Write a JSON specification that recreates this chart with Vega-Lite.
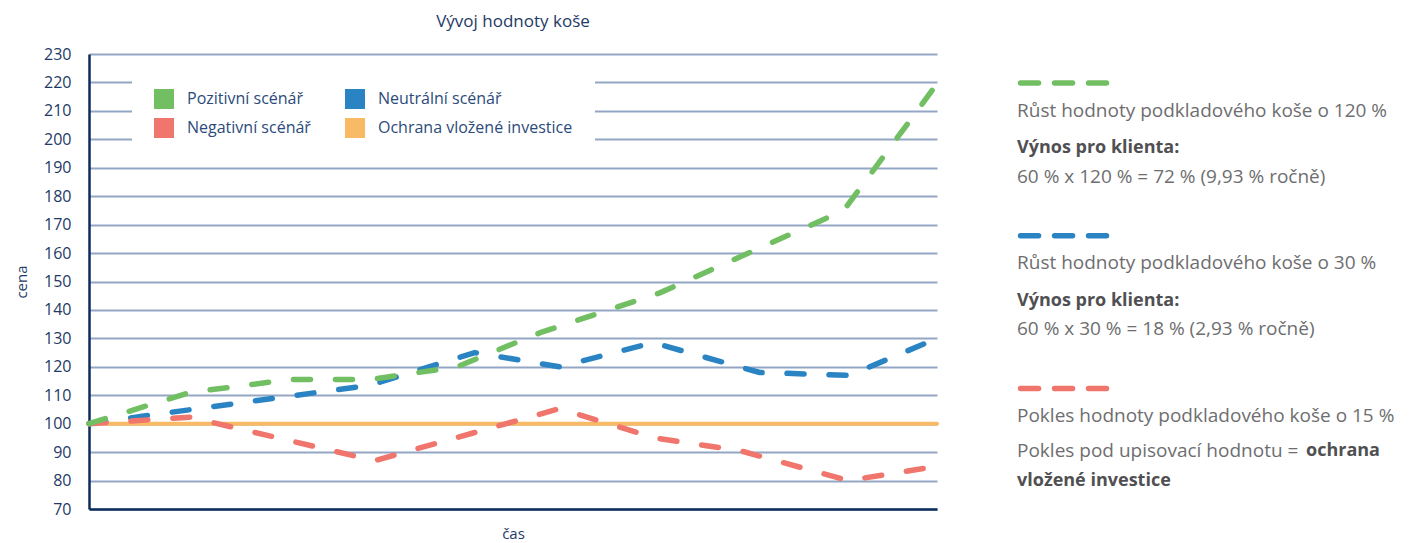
{
  "$schema": "https://vega.github.io/schema/vega-lite/v6.json",
  "background": "white",
  "padding": {"left": 14, "top": 13, "right": 0, "bottom": 0},
  "config": {"view": {"stroke": null}, "font": "Open Sans"},
  "spacing": 72,
  "hconcat": [
    {
      "width": 848,
      "height": 455,
      "title": {"text": "Vývoj hodnoty koše", "fontSize": 17, "fontWeight": 500, "color": "#1E3A66", "offset": 15, "anchor": "middle"},
      "data": {"values": [
        {"s": "Pozitivní scénář", "t": 0, "v": 100},
        {"s": "Pozitivní scénář", "t": 11.9, "v": 111},
        {"s": "Pozitivní scénář", "t": 23.7, "v": 115.5},
        {"s": "Pozitivní scénář", "t": 33.1, "v": 115.5},
        {"s": "Pozitivní scénář", "t": 43.4, "v": 120},
        {"s": "Pozitivní scénář", "t": 53.2, "v": 132},
        {"s": "Pozitivní scénář", "t": 67.3, "v": 146},
        {"s": "Pozitivní scénář", "t": 89.0, "v": 175},
        {"s": "Pozitivní scénář", "t": 100, "v": 219.5},
        {"s": "Neutrální scénář", "t": 0, "v": 100},
        {"s": "Neutrální scénář", "t": 7.2, "v": 103},
        {"s": "Neutrální scénář", "t": 33.1, "v": 113.5},
        {"s": "Neutrální scénář", "t": 45.5, "v": 125},
        {"s": "Neutrální scénář", "t": 55.5, "v": 120},
        {"s": "Neutrální scénář", "t": 66.5, "v": 128.5},
        {"s": "Neutrální scénář", "t": 79.1, "v": 118},
        {"s": "Neutrální scénář", "t": 89.7, "v": 117},
        {"s": "Neutrální scénář", "t": 100, "v": 130},
        {"s": "Negativní scénář", "t": 0, "v": 100},
        {"s": "Negativní scénář", "t": 11.9, "v": 102.3},
        {"s": "Negativní scénář", "t": 33.7, "v": 87},
        {"s": "Negativní scénář", "t": 55.5, "v": 105.3},
        {"s": "Negativní scénář", "t": 66.7, "v": 95},
        {"s": "Negativní scénář", "t": 76.8, "v": 90.5},
        {"s": "Negativní scénář", "t": 89.5, "v": 80},
        {"s": "Negativní scénář", "t": 100, "v": 85},
        {"s": "Ochrana vložené investice", "t": 0, "v": 100},
        {"s": "Ochrana vložené investice", "t": 100, "v": 100}
      ]},
      "encoding": {
        "x": {"field": "t", "type": "quantitative", "scale": {"domain": [0, 100], "nice": false, "zero": false},
          "axis": {"title": "čas", "labels": false, "ticks": false, "grid": false, "domainColor": "#0B2D5B", "domainWidth": 2.5, "titleFontSize": 15, "titleFontWeight": "normal", "titleColor": "#1E3A66", "titlePadding": 17}},
        "y": {"field": "v", "type": "quantitative", "scale": {"domain": [70, 230], "nice": false, "zero": false},
          "axis": {"title": "cena", "tickCount": 16, "ticks": false, "labelPadding": 18, "labelFontSize": 16, "labelColor": "#1E3A66", "gridColor": "#93A6C3", "gridWidth": 2, "gridOpacity": 1, "domainColor": "#0B2D5B", "domainWidth": 2.5, "titleFontSize": 15, "titleFontWeight": "normal", "titleColor": "#1E3A66", "titlePadding": 14}},
        "color": {"field": "s", "type": "nominal",
          "scale": {"domain": ["Pozitivní scénář", "Neutrální scénář", "Negativní scénář", "Ochrana vložené investice"], "range": ["#72BF63", "#2A84C3", "#F0756C", "#F8BA64"]},
          "legend": {"orient": "none", "legendX": 43, "legendY": 13, "direction": "horizontal", "title": null, "columns": 2, "symbolType": "square", "symbolSize": 400, "symbolStrokeWidth": 0, "symbolOpacity": 1, "labelFontSize": 16, "labelColor": "#2C4B7B", "labelOffset": 13, "labelLimit": 400, "columnPadding": 34, "rowPadding": 9, "padding": 22, "fillColor": "white",
            "encode": {"symbols": {"update": {"fill": {"scale": "color", "field": "value"}, "stroke": {"value": "transparent"}}}}}
        }
      },
      "layer": [
        {"transform": [{"filter": "datum.s === 'Ochrana vložené investice'"}], "mark": {"type": "line", "strokeWidth": 4, "strokeCap": "round"}},
        {"transform": [{"filter": "datum.s === 'Neutrální scénář'"}], "mark": {"type": "line", "strokeWidth": 5.5, "strokeCap": "round", "strokeJoin": "round", "strokeDash": [17, 25]}},
        {"transform": [{"filter": "datum.s === 'Negativní scénář'"}], "mark": {"type": "line", "strokeWidth": 5.5, "strokeCap": "round", "strokeJoin": "round", "strokeDash": [17, 25]}},
        {"transform": [{"filter": "datum.s === 'Pozitivní scénář'"}], "mark": {"type": "line", "strokeWidth": 5.5, "strokeCap": "round", "strokeJoin": "round", "strokeDash": [17, 25]}}
      ]
    },
    {
      "width": 395,
      "height": 455,
      "data": {"values": [
        {"slot": 0, "kind": "dash", "s": "Pozitivní scénář"},
        {"slot": 1, "kind": "sub", "text": "Růst hodnoty podkladového koše o 120 %"},
        {"slot": 2, "kind": "head", "text": "Výnos pro klienta:"},
        {"slot": 3, "kind": "body", "text": "60 %  x 120 % = 72 % (9,93 % ročně)"},
        {"slot": 5, "kind": "dash", "s": "Neutrální scénář"},
        {"slot": 6, "kind": "sub", "text": "Růst hodnoty podkladového koše o 30 %"},
        {"slot": 7, "kind": "head", "text": "Výnos pro klienta:"},
        {"slot": 8, "kind": "body", "text": "60 % x 30 % = 18 % (2,93 % ročně)"},
        {"slot": 10, "kind": "dash", "s": "Negativní scénář"},
        {"slot": 11, "kind": "sub", "text": "Pokles hodnoty podkladového koše o 15 %"},
        {"slot": 12, "kind": "body", "text": "Pokles pod upisovací hodnotu ="},
        {"slot": 12, "kind": "inline", "text": "ochrana"},
        {"slot": 13, "kind": "tail", "text": "vložené investice"}
      ]},
      "encoding": {
        "y": {"field": "slot", "type": "quantitative", "scale": {"domain": [0, 13], "range": [29, 426], "nice": false, "zero": false}, "axis": null}
      },
      "layer": [
        {"transform": [{"filter": "datum.kind === 'dash' && datum.s === 'Pozitivní scénář'"}],
          "mark": {"type": "rule", "color": "#72BF63", "strokeWidth": 5.5, "strokeCap": "round", "strokeDash": [18, 16]},
          "encoding": {"x": {"datum": 0.009, "type": "quantitative", "scale": {"domain": [0, 1], "nice": false, "zero": false}, "axis": null}, "x2": {"datum": 0.2266}}},
        {"transform": [{"filter": "datum.kind === 'dash' && datum.s === 'Neutrální scénář'"}],
          "mark": {"type": "rule", "color": "#2A84C3", "strokeWidth": 5.5, "strokeCap": "round", "strokeDash": [18, 16]},
          "encoding": {"x": {"datum": 0.009, "type": "quantitative", "scale": {"domain": [0, 1], "nice": false, "zero": false}, "axis": null}, "x2": {"datum": 0.2266}}},
        {"transform": [{"filter": "datum.kind === 'dash' && datum.s === 'Negativní scénář'"}],
          "mark": {"type": "rule", "color": "#F0756C", "strokeWidth": 5.5, "strokeCap": "round", "strokeDash": [18, 16]},
          "encoding": {"x": {"datum": 0.009, "type": "quantitative", "scale": {"domain": [0, 1], "nice": false, "zero": false}, "axis": null}, "x2": {"datum": 0.2266}}},
        {"transform": [{"filter": "datum.kind === 'sub'"}],
          "mark": {"type": "text", "align": "left", "baseline": "middle", "fontSize": 19, "color": "#6E6E70", "dy": -3},
          "encoding": {"x": {"datum": 0, "type": "quantitative", "scale": {"domain": [0, 1], "nice": false, "zero": false}, "axis": null}, "text": {"field": "text"}}},
        {"transform": [{"filter": "datum.kind === 'head'"}],
          "mark": {"type": "text", "align": "left", "baseline": "middle", "fontSize": 18, "fontWeight": "bold", "color": "#505052", "dy": 4},
          "encoding": {"x": {"datum": 0, "type": "quantitative", "scale": {"domain": [0, 1], "nice": false, "zero": false}, "axis": null}, "text": {"field": "text"}}},
        {"transform": [{"filter": "datum.kind === 'body'"}],
          "mark": {"type": "text", "align": "left", "baseline": "middle", "fontSize": 19, "color": "#6E6E70", "dy": 2},
          "encoding": {"x": {"datum": 0, "type": "quantitative", "scale": {"domain": [0, 1], "nice": false, "zero": false}, "axis": null}, "text": {"field": "text"}}},
        {"transform": [{"filter": "datum.kind === 'inline'"}],
          "mark": {"type": "text", "align": "left", "baseline": "middle", "fontSize": 18, "fontWeight": "bold", "color": "#505052", "dy": 2, "dx": 289},
          "encoding": {"x": {"datum": 0, "type": "quantitative", "scale": {"domain": [0, 1], "nice": false, "zero": false}, "axis": null}, "text": {"field": "text"}}},
        {"transform": [{"filter": "datum.kind === 'tail'"}],
          "mark": {"type": "text", "align": "left", "baseline": "middle", "fontSize": 18, "fontWeight": "bold", "color": "#505052", "dy": 1},
          "encoding": {"x": {"datum": 0, "type": "quantitative", "scale": {"domain": [0, 1], "nice": false, "zero": false}, "axis": null}, "text": {"field": "text"}}}
      ]
    }
  ]
}
